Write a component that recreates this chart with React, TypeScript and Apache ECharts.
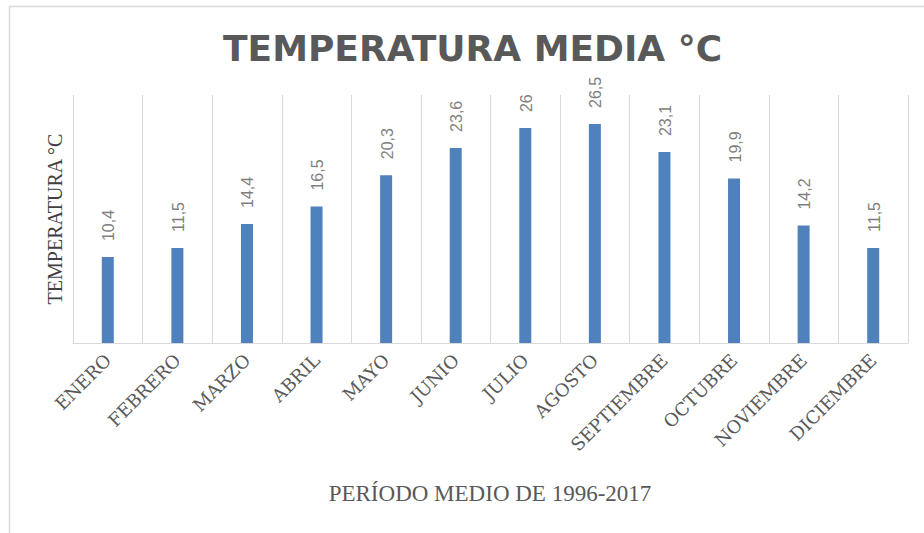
import React, { useEffect, useRef } from "react";
import * as echarts from "echarts";

const months = [
  "ENERO", "FEBRERO", "MARZO", "ABRIL", "MAYO", "JUNIO",
  "JULIO", "AGOSTO", "SEPTIEMBRE", "OCTUBRE", "NOVIEMBRE", "DICIEMBRE",
];
const temps = [10.4, 11.5, 14.4, 16.5, 20.3, 23.6, 26, 26.5, 23.1, 19.9, 14.2, 11.5];
const titleText = "TEMPERATURA MEDIA °C";
const yName = "TEMPERATURA °C";
const xName = "PERÍODO MEDIO DE 1996-2017";

export default function App() {
  const ref = useRef<HTMLDivElement>(null);
  useEffect(() => {
    if (!ref.current) return;
    const chart = echarts.init(ref.current, undefined, { renderer: "svg" });
    chart.setOption({
      animation: false,
      backgroundColor: "#ffffff",
      title: {
        text: titleText,
        left: 218,
        top: 25,
        textStyle: {
          fontFamily: "DejaVu Sans",
          fontSize: 36,
          fontWeight: "bold",
          color: "#595959",
        },
      },
      graphic: [
        {
          type: "rect",
          shape: { x: 9.5, y: 6.5, width: 1000, height: 1000 },
          style: { fill: "none", stroke: "#d9d9d9", lineWidth: 1.5 },
          silent: true,
        },
        {
          type: "text",
          x: 55,
          y: 219,
          rotation: Math.PI / 2,
          silent: true,
          style: {
            text: yName,
            align: "center",
            verticalAlign: "middle",
            fontFamily: "Liberation Serif",
            fontSize: 20,
            fill: "#404040",
          },
        },
        {
          type: "text",
          x: 490,
          y: 493,
          silent: true,
          style: {
            text: xName,
            align: "center",
            verticalAlign: "middle",
            fontFamily: "Liberation Serif",
            fontSize: 23,
            fill: "#595959",
          },
        },
      ],
      grid: { left: 73, right: 16, top: 95, bottom: 190 },
      xAxis: {
        type: "category",
        data: months,
        axisLine: { lineStyle: { color: "#d9d9d9", width: 1 } },
        axisTick: { show: false },
        splitLine: { show: true, lineStyle: { color: "#d9d9d9", width: 1 } },
        axisLabel: {
          rotate: 45,
          interval: 0,
          margin: 14,
          fontFamily: "DejaVu Serif",
          fontSize: 18,
          color: "#595959",
        },
      },
      yAxis: {
        type: "value",
        min: 0,
        max: 30,
        interval: 5,
        splitLine: { show: false },
        axisLabel: { formatter: () => "" },
      },
      series: [
        {
          type: "bar",
          data: temps,
          barWidth: 12,
          itemStyle: { color: "#4f81bd" },
        },
        {
          type: "custom",
          data: temps.map((v, i) => [i, v]),
          renderItem: (params: any, api: any) => {
            const v = api.value(1);
            const pt = api.coord([api.value(0), v]);
            return {
              type: "text",
              x: pt[0] + 1,
              y: pt[1] - 16,
              rotation: Math.PI / 2,
              style: {
                text: String(v).replace(".", ","),
                align: "left",
                verticalAlign: "middle",
                fontSize: 16,
                fontFamily: "Liberation Sans",
                fill: "#7f7f7f",
              },
            };
          },
        },
      ],
    });
    return () => chart.dispose();
  }, []);
  return (
    <div
      ref={ref}
      style={{ position: "fixed", left: 0, top: 0, width: 924, height: 533 }}
    />
  );
}
